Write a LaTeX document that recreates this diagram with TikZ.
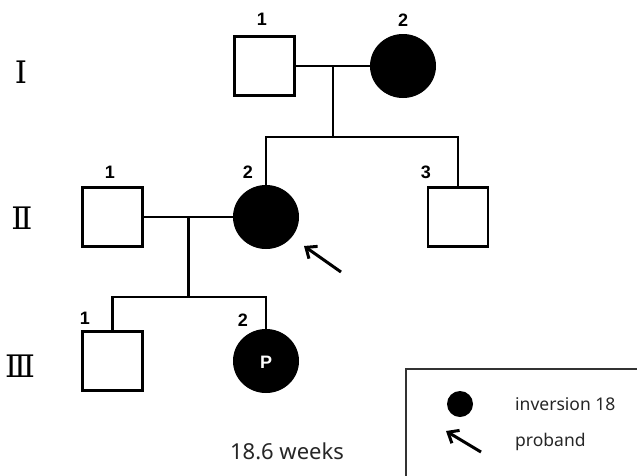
\documentclass[tikz,border=0pt]{standalone}
\usepackage{fontspec}
\setmainfont{Noto Sans}
\newfontfamily\romanfont{DejaVu Serif}
\newfontfamily\labelfont{Liberation Sans}
\usetikzlibrary{arrows.meta,shapes.geometric,calc}
\begin{document}
\begin{tikzpicture}[x=1pt,y=-1pt,
  male/.style={draw, rectangle, line width=2.8pt, minimum width=60pt, minimum height=59pt, inner sep=0pt},
  female/.style={draw, ellipse, fill=black, line width=1pt, minimum width=65pt, minimum height=63pt, inner sep=0pt},
  lbl/.style={font=\labelfont\bfseries\fontsize{18}{18}\selectfont, inner sep=0pt},
  gen/.style={font=\romanfont\fontsize{31}{31}\selectfont, inner sep=0pt},
  link/.style={line width=2.2pt},
  probarrow/.style={line width=3pt, -{Straight Barb[length=9pt,width=15pt,line width=3pt]}},
  legtext/.style={font=\fontsize{17.5}{17.5}\selectfont, anchor=west, inner sep=0pt, text=black!85}
]
\useasboundingbox (0,0) rectangle (637,475);
\fill[white] (0,0) rectangle (637,475);

% generation labels
\node[gen] (g1) at (21,72) {Ⅰ};
\node[gen] (g2) at (22,218) {Ⅱ};
\node[gen] (g3) at (20,366) {Ⅲ};

% generation I
\node[male] (I1) at (264.5,66) {};
\node[female] (I2) at (403,66) {};
\node[lbl] (lI1) at (262,19) {1};
\node[lbl] (lI2) at (403,20) {2};

% generation II
\node[male] (II1) at (112.5,217) {};
\node[female] (II2) at (266,217) {};
\node[male] (II3) at (458,217) {};
\node[lbl] (lII1) at (110,172) {1};
\node[lbl] (lII2) at (248,172) {2};
\node[lbl] (lII3) at (426,172) {3};

% generation III
\node[male] (III1) at (112.5,361) {};
\node[female] (III2) at (266,361) {};
\node[font=\labelfont\bfseries\fontsize{18}{18}\selectfont, text=white, inner sep=0pt] (P) at (266,362) {P};
\node[lbl] (lIII1) at (85,318) {1};
\node[lbl] (lIII2) at (243,320) {2};

% connectors
\coordinate (m1) at ($(I1.east)!0.5!(I2.west)$);
\coordinate (s1) at (m1 |- 0,137);
\coordinate (s1l) at (II2 |- s1);
\coordinate (s1r) at (II3 |- s1);
\draw[link] (I1.east) -- (I2.west);
\draw[link] (m1) -- (s1);
\draw[link] (II2.north) -- (s1l) -- (s1r) -- (II3.north);

\coordinate (m2) at ($(II1.east)!0.5!(II2.west)$);
\coordinate (s2) at (m2 |- 0,297);
\coordinate (s2l) at (III1 |- s2);
\coordinate (s2r) at (III2 |- s2);
\draw[link] (II1.east) -- (II2.west);
\draw[link] (m2) -- (s2);
\draw[link] (III1.north) -- (s2l) -- (s2r) -- (III2.north);

% proband arrow
\coordinate (pa1) at (341,272);
\coordinate (pa2) at (304,246);
\draw[probarrow] (pa1) -- (pa2);

% gestation text
\node[font=\fontsize{22}{22}\selectfont, inner sep=0pt, text=black!85] (wk) at (287,451) {18.6 weeks};

% legend
\draw[line width=1.2pt, draw=black!80] (406,480) -- (406,369) -- (645,369);
\node[circle, fill=black, minimum size=26pt, inner sep=0pt] (lc) at (460,404) {};
\node[legtext] (lt1) at (515,404) {inversion 18};
\coordinate (la1) at (481,452);
\coordinate (la2) at (446,431);
\draw[probarrow] (la1) -- (la2);
\node[legtext] (lt2) at (515,442) {proband};
\end{tikzpicture}
\end{document}
